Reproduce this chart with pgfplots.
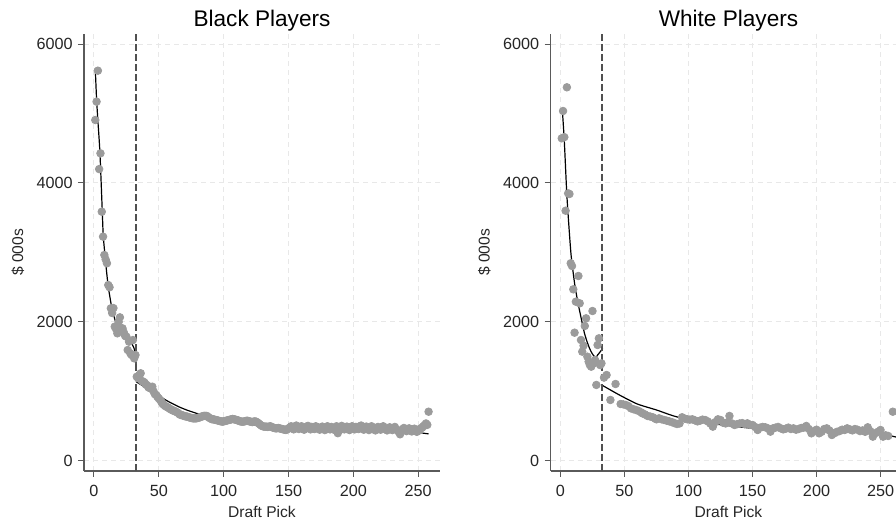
\documentclass[border=0pt]{standalone}
\usepackage{fontspec}
\setmainfont{Liberation Sans}
\usepackage{pgfplots}
\pgfplotsset{compat=1.18}
\definecolor{dotgray}{RGB}{155,155,155}
\definecolor{axgray}{RGB}{90,90,90}
\definecolor{gridgray}{RGB}{232,232,232}
\definecolor{refgray}{RGB}{80,80,80}
\pgfplotsset{panel/.style={
  scale only axis, width=178pt, height=218.5pt,
  ymin=-144, ymax=6144,
  axis lines=left, axis line style={-, draw=axgray, line width=0.55pt},
  xtick={0,50,...,250}, ytick={0,2000,4000,6000},
  tick align=outside, major tick length=3pt,
  tick style={draw=axgray, line width=0.5pt},
  grid=major, major grid style={draw=gridgray, dash pattern=on 2.5pt off 2pt, line width=0.5pt},
  /pgf/number format/assume math mode=true,
  /pgf/number format/1000 sep={},
  ticklabel style={font=\fontsize{8.1}{9}\selectfont, text=black!85},
  xticklabel style={anchor=base, yshift=-9.75pt},
  yticklabel style={anchor=east, inner sep=0pt, xshift=-2.5pt},
  xlabel={Draft Pick}, ylabel={\$ 000s},
  label style={font=\fontsize{7.8}{9}\selectfont, text=black!85},
  xlabel style={at={(axis description cs:0.5,0)}, anchor=base, yshift=-23.25pt},
  ylabel style={at={(axis description cs:0,0.5)}, anchor=center, yshift=33pt},
  every axis title shift=0pt,
  title style={font=\fontsize{11.3}{13}\selectfont, at={(axis description cs:0.5,1)}, anchor=base, yshift=3.65pt},
}}
\begin{document}
\begin{tikzpicture}
\useasboundingbox (0,0) rectangle (448pt,-261.5pt);
\clip (0,0) rectangle (448pt,-261.5pt);
\begin{axis}[panel, at={(42pt,-235.5pt)}, anchor=south west,
  xmin=-7.7, xmax=266.8, title={Black Players}]
\addplot[only marks, mark=*, mark size=1.9pt, mark options={draw=dotgray, fill=dotgray}] coordinates {
(1,4906)(2,5170)(3,5616)(4,4200)(5,4427)(6,3587)(7,3228)(8,2964)(9,2900)(10,2845)
(11,2532)(12,2500)(13,2197)(14,2129)(15,2200)(16,1933)(17,1900)(18,1837)(19,2000)(20,2067)
(21,1870)(22,1909)(23,1850)(24,1800)(25,1789)(26,1597)(27,1717)(28,1549)(29,1525)(30,1740)
(31,1477)(32,1525)(33,1213)(34,1190)(35,1237)(36,1262)(37,1150)(38,1141)(39,1127)(40,1100)
(41,1090)(42,1060)(43,1050)(44,1040)(45,1069)(46,1000)(47,960)(48,950)(49,920)(50,900)
(51,878)(52,850)(53,820)(54,806)(55,790)(56,780)(57,770)(58,758)(59,745)(60,735)
(61,725)(62,720)(63,710)(64,700)(65,690)(66,670)(67,662)(68,660)(69,650)(70,645)
(71,640)(72,638)(73,630)(74,625)(75,620)(76,615)(77,612)(78,614)(79,614)(80,620)
(81,625)(82,630)(83,640)(84,645)(85,650)(86,648)(87,648)(88,635)(89,620)(90,610)
(91,600)(92,600)(93,595)(94,590)(95,585)(96,580)(97,575)(98,570)(99,566)(100,570)
(101,575)(102,580)(103,585)(104,590)(105,595)(106,600)(107,605)(108,600)(109,595)(110,590)
(111,585)(112,575)(113,570)(114,566)(115,566)(116,570)(117,575)(118,580)(119,575)(120,570)
(121,565)(122,560)(123,566)(124,570)(125,566)(126,555)(127,540)(128,525)(129,510)(130,500)
(131,495)(132,494)(133,494)(134,490)(135,495)(136,500)(137,490)(138,480)(139,475)(140,470)
(141,470)(142,475)(143,470)(144,465)(145,460)(146,455)(147,450)(148,446)(149,455)(150,470)
(151,480)(152,500)(153,470)(154,455)(155,490)(156,510)(157,475)(158,460)(159,485)(160,500)
(161,470)(162,450)(163,480)(164,495)(165,505)(166,470)(167,455)(168,490)(169,480)(170,460)
(171,500)(172,485)(173,465)(174,450)(175,475)(176,495)(177,470)(178,445)(179,480)(180,500)
(181,465)(182,455)(183,490)(184,475)(185,450)(186,470)(187,500)(188,400)(189,440)(190,480)
(191,505)(192,470)(193,455)(194,485)(195,495)(196,460)(197,445)(198,480)(199,500)(200,470)
(201,455)(202,490)(203,480)(204,460)(205,500)(206,510)(207,470)(208,450)(209,485)(210,495)
(211,465)(212,445)(213,480)(214,500)(215,470)(216,455)(217,440)(218,475)(219,490)(220,465)
(221,450)(222,480)(223,500)(224,470)(225,455)(226,440)(227,470)(228,485)(229,460)(230,445)
(231,475)(232,490)(233,455)(234,440)(235,420)(236,384)(237,430)(238,460)(239,475)(240,445)
(241,430)(242,460)(243,470)(244,440)(245,425)(246,455)(247,465)(248,430)(249,420)(250,450)
(251,440)(252,470)(253,480)(254,500)(255,518)(256,540)(257,520)(258,709)
};
\addplot[black, line width=0.6pt, smooth, tension=0.4] coordinates {
(1,5650)(2,5200)(3,4900)(4.6,4430)(6.4,3590)(7.2,3230)(9.3,2800)(11,2510)(13.6,2220)(16.2,2030)
(18,1950)(20,1885)(22.5,1820)(25.2,1765)(27,1735)(29,1690)(30.5,1640)(31.6,1570)(32.5,1380)
};
\addplot[black, line width=0.6pt, smooth, tension=0.4] coordinates {
(32.5,1141)(36,1100)(40,1055)(45,1000)(48,965)(52,915)(56,870)(60,830)(66,775)(72,730)
(79,686)(85,655)(92,620)(100,590)(110,560)(120,530)(130,505)(140,490)(150,482)(165,478)
(180,478)(200,480)(215,477)(225,468)(232,458)(237,446)(245,425)(252,405)(258,390)
};
\addplot[refgray, line width=0.9pt, dash pattern=on 3.3pt off 1.7pt] coordinates {(32.5,-144)(32.5,6144)};
\end{axis}
\begin{axis}[panel, at={(275.25pt,-235.5pt)}, anchor=south west,
  xmin=-7.8, xmax=270.3, title={White Players}]
\addplot[only marks, mark=*, mark size=1.9pt, mark options={draw=dotgray, fill=dotgray}] coordinates {
(1,4643)(2,5036)(3,4660)(4,3601)(5,5377)(6,3851)(7,3842)(8,2845)(9,2806)(10,2470)
(11,1846)(12,2292)(14,2662)(15,2269)(16,1741)(17,1573)(18,1660)(19,1943)(20,2053)(21,1501)
(22,1429)(23,1380)(24,1357)(25,2158)(26,1405)(27,1453)(28,1094)(29,1669)(30,1765)(31,1380)
(32,1405)(34,1200)(36,1237)(39,878)(43,1108)(47,820)(49,815)(51,806)(53,790)(55,758)
(57,745)(59,734)(61,720)(63,700)(64,686)(66,670)(68,648)(70,640)(72,630)(74,610)
(75,600)(77,614)(79,600)(81,590)(83,580)(85,570)(87,560)(89,545)(91,532)(93,540)
(95,629)(97,610)(99,600)(101,595)(103,600)(105,585)(107,570)(109,580)(111,595)(113,590)
(115,570)(117,540)(119,494)(121,560)(123,600)(125,590)(127,550)(129,540)(131,560)(132,648)
(134,540)(136,518)(138,530)(140,540)(142,545)(144,530)(146,542)(148,520)(150,518)(152,490)
(154,446)(156,480)(158,490)(160,485)(162,470)(164,422)(166,470)(168,480)(170,490)(172,470)
(174,455)(176,465)(178,480)(180,460)(182,470)(184,450)(186,460)(188,475)(190,480)(192,504)
(194,460)(196,398)(198,430)(200,450)(202,398)(204,420)(206,460)(208,470)(210,440)(212,374)
(214,400)(216,420)(218,430)(220,450)(222,446)(224,470)(226,455)(228,440)(230,460)(232,450)
(234,430)(236,440)(238,420)(240,485)(242,430)(244,350)(246,400)(248,420)(250,446)(252,350)
(254,370)(256,360)(259.6,709)
};
\addplot[black, line width=0.6pt, smooth, tension=0.4] coordinates {
(1.5,5036)(3,4600)(4.9,3851)(6.5,3400)(8.3,2960)(11,2557)(13,2340)(14.8,2173)(16.8,2000)(18.75,1837)
(20.7,1720)(22.7,1621)(24.6,1550)(26.6,1501)(28,1495)(29,1525)(31,1570)(33,1621)
};
\addplot[black, line width=0.6pt, smooth, tension=0.4] coordinates {
(33,1085)(46,950)(60,820)(75,734)(88,650)(101,590)(114,550)(127,518)(140,490)(155,462)
(175,450)(200,446)(220,440)(239,422)(250,395)(262,345)
};
\addplot[refgray, line width=0.9pt, dash pattern=on 3.3pt off 1.7pt] coordinates {(32.5,-144)(32.5,6144)};
\end{axis}
\end{tikzpicture}
\end{document}
